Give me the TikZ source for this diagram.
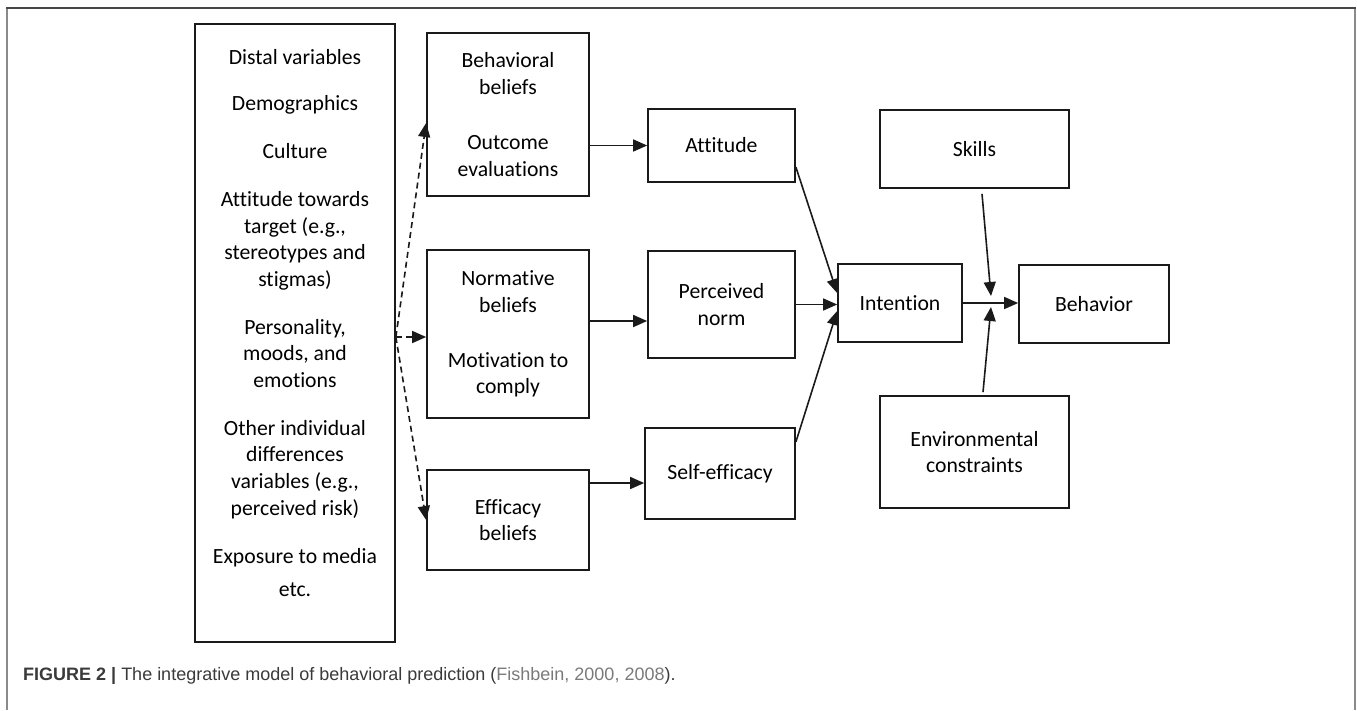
\documentclass[tikz,border=0pt]{standalone}
\usepackage{fontspec}
\setmainfont[Ligatures=NoCommon]{Carlito}
\newfontfamily\capfont{Liberation Sans}
\usetikzlibrary{arrows.meta}
\definecolor{ink}{HTML}{1A1A1A}
\definecolor{capdark}{HTML}{3A3A3A}
\definecolor{caplink}{HTML}{7A7A7A}
\definecolor{frametop}{HTML}{474747}
\definecolor{frameside}{HTML}{8A8A8A}
\begin{document}
\begin{tikzpicture}[x=1pt,y=-1pt,
  box/.style={draw=ink, line width=1.7pt, rectangle, inner sep=0pt, align=center,
              font=\fontsize{21.7}{26.7}\selectfont},
  txt/.style={inner sep=0pt, align=center, font=\fontsize{21.7}{26.7}\selectfont},
  arr/.style={draw=ink, line width=1.6pt, -{Triangle[length=14pt,width=12pt]}},
  dasharr/.style={arr, dash pattern=on 6pt off 4pt}]
\useasboundingbox (0,0) rectangle (1357,710);

% page frame
\draw[frameside, line width=1.5pt] (7,710) -- (7,8);
\draw[frameside, line width=1.5pt] (1355,8) -- (1355,710);
\draw[frametop, line width=2pt] (6.25,8) -- (1355.75,8);

% distal variables column
\node[box, minimum width=200pt, minimum height=618pt] (distal) at (295,333) {};
\node[txt] (distaltxt) at (295,323) {Distal variables\\[20pt]
  Demographics\\[21pt]
  Culture\\[21pt]
  Attitude towards\\ target (e.g.,\\ stereotypes and\\ stigmas)\\[21pt]
  Personality,\\ moods, and\\ emotions\\[21pt]
  Other individual\\ differences\\ variables (e.g.,\\ perceived risk)\\[21pt]
  Exposure to media\\[7pt]
  etc.};

% belief boxes
\node[box, minimum width=162pt, minimum height=163pt] (bb) at (508,114.5)
  {Behavioral\\ beliefs\\[28pt] Outcome\\ evaluations};
\node[box, minimum width=162pt, minimum height=168pt] (nb) at (508,334)
  {Normative\\ beliefs\\[28pt] Motivation to\\ comply};
\node[box, minimum width=162pt, minimum height=100pt] (eb) at (508,520)
  {Efficacy\\ beliefs};

% determinants of intention
\node[box, minimum width=147pt, minimum height=73pt] (att) at (721.5,145.5) {Attitude};
\node[box, minimum width=147pt, minimum height=107pt] (pn) at (721.5,304.5) {Perceived\\ norm};
\node[box, minimum width=150pt, minimum height=91pt] (se) at (720,473.5) {Self-efficacy};

% intention, behavior and moderators
\node[box, minimum width=124pt, minimum height=78pt] (int) at (900,303) {Intention};
\node[box, minimum width=150pt, minimum height=78pt] (beh) at (1094,304) {Behavior};
\node[box, minimum width=189pt, minimum height=78pt] (sk) at (974.5,149) {Skills};
\node[box, minimum width=189pt, minimum height=112pt] (env) at (974.5,452) {Environmental\\ constraints};

% dashed links from the distal variables
\coordinate (src) at ([yshift=-4pt]distal.east);
\draw[dasharr] (src) -- ([yshift=-8.5pt]bb.west);
\draw[dasharr] (src) -- (src -| nb.west);
\draw[dasharr] (src) -- (eb.west);

% beliefs to determinants
\draw[arr] (bb.east |- att.west) -- (att.west);
\coordinate (nbout) at ([yshift=13pt]nb.east);
\draw[arr] (nbout) -- (nbout -| pn.west);
\coordinate (ebout) at ([yshift=37pt]eb.east);
\draw[arr] (ebout) -- (ebout -| se.west);

% determinants to intention
\draw[arr] ([yshift=-21.5pt]att.east) -- ([yshift=10pt]int.west);
\draw[arr] (pn.east) -- (pn.east -| int.west);
\draw[arr] ([yshift=31.5pt]se.east) -- ([yshift=-8pt]int.west);

% intention to behavior, moderated by skills and constraints
\draw[arr] (int.east) -- (int.east -| beh.west);
\coordinate (jn) at (991,305);
\draw[arr] ([xshift=7.5pt,yshift=-5pt]sk.south) -- ([yshift=9pt]jn);
\draw[arr] ([xshift=8.5pt,yshift=3pt]env.north) -- ([yshift=-2pt]jn);

% caption
\node[anchor=base west, inner sep=0pt, text=capdark,
      font=\capfont\fontsize{18}{22}\selectfont] (caption) at (23,680)
  {\textbf{FIGURE 2 |} The integrative model of behavioral prediction (\textcolor{caplink}{Fishbein, 2000, 2008}).};
\end{tikzpicture}
\end{document}
